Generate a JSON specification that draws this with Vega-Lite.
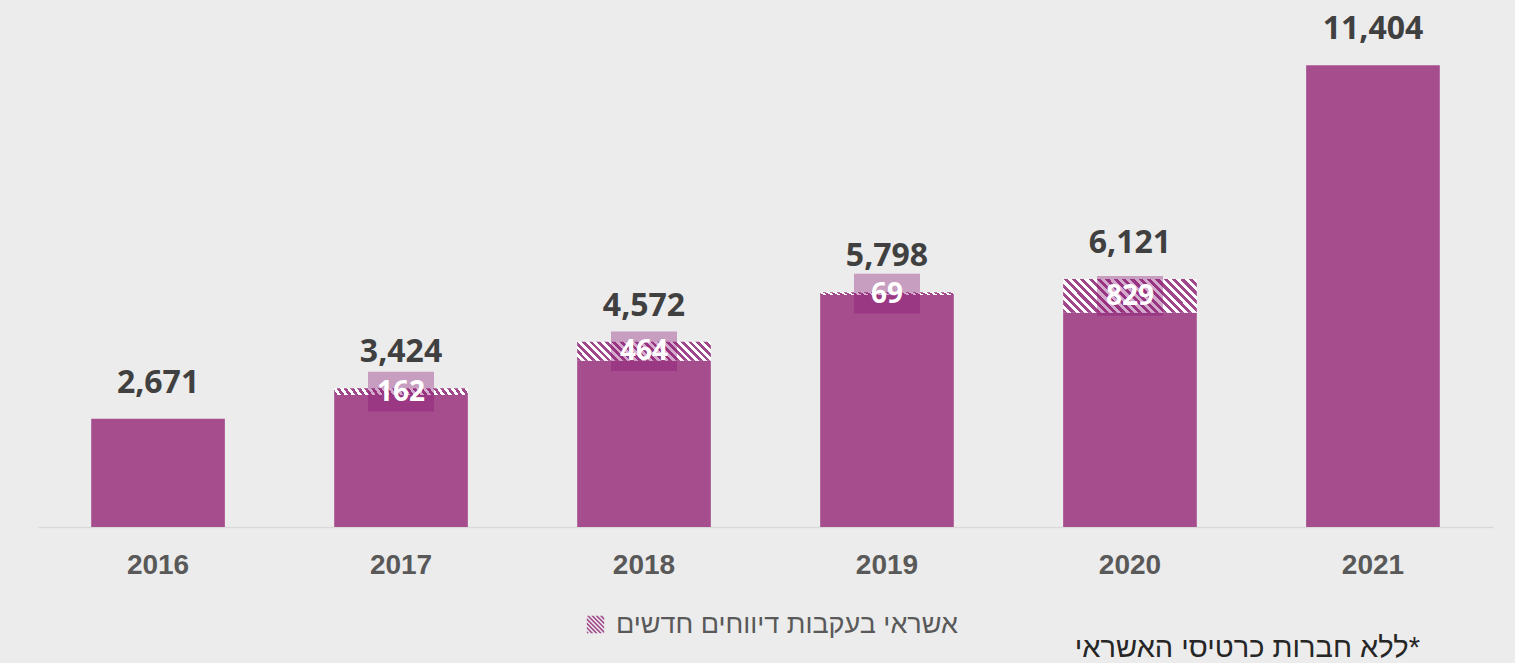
{
  "$schema": "https://vega.github.io/schema/vega-lite/v6.json",
  "width": 1455,
  "height": 486,
  "autosize": {"type": "none"},
  "padding": {"left": 38, "top": 41, "right": 22, "bottom": 136},
  "background": "#ececec",
  "config": {
    "view": {"stroke": null},
    "axis": {"grid": false}
  },
  "title": {
    "text": "ללא חברות כרטיסי האשראי*",
    "orient": "bottom",
    "anchor": "end",
    "font": "Liberation Sans",
    "fontSize": 29,
    "fontWeight": "normal",
    "color": "#262626",
    "dx": -73,
    "offset": -4,
    "baseline": "top"
  },
  "data": {
    "values": [
      {"year": "2016", "base": 2671, "hatch": 0, "total": 2671},
      {"year": "2017", "base": 3262, "hatch": 162, "total": 3424},
      {"year": "2018", "base": 4108, "hatch": 464, "total": 4572},
      {"year": "2019", "base": 5729, "hatch": 69, "total": 5798},
      {"year": "2020", "base": 5292, "hatch": 829, "total": 6121},
      {"year": "2021", "base": 11404, "hatch": 0, "total": 11404}
    ]
  },
  "encoding": {
    "x": {
      "field": "year",
      "type": "ordinal",
      "scale": {"paddingInner": 0.45, "paddingOuter": 0.219},
      "axis": {
        "title": null,
        "labelAngle": 0,
        "ticks": false,
        "domainColor": "#d9d9d9",
        "domainWidth": 1.5,
        "labelFont": "Liberation Sans",
        "labelFontWeight": "bold",
        "labelFontSize": 28,
        "labelColor": "#595959",
        "labelPadding": 24
      }
    }
  },
  "layer": [
    {
      "mark": {"type": "bar", "color": "#a64d8e"},
      "encoding": {
        "y": {"field": "base", "type": "quantitative", "scale": {"domain": [0, 12000]}, "axis": null}
      }
    },
    {
      "transform": [{"filter": "datum.year == '2020'"}],
      "mark": {
        "type": "bar",
        "fill": {
          "gradient": "linear", "x1": 0, "y1": 1, "x2": 1.1765, "y2": 0.706,
          "stops": [
            {"offset": 0, "color": "#a0468a"}, {"offset": 0.025, "color": "#a0468a"}, {"offset": 0.025, "color": "#ffffff"}, {"offset": 0.05, "color": "#ffffff"},
            {"offset": 0.05, "color": "#a0468a"}, {"offset": 0.075, "color": "#a0468a"}, {"offset": 0.075, "color": "#ffffff"}, {"offset": 0.1, "color": "#ffffff"},
            {"offset": 0.1, "color": "#a0468a"}, {"offset": 0.125, "color": "#a0468a"}, {"offset": 0.125, "color": "#ffffff"}, {"offset": 0.15, "color": "#ffffff"},
            {"offset": 0.15, "color": "#a0468a"}, {"offset": 0.175, "color": "#a0468a"}, {"offset": 0.175, "color": "#ffffff"}, {"offset": 0.2, "color": "#ffffff"},
            {"offset": 0.2, "color": "#a0468a"}, {"offset": 0.225, "color": "#a0468a"}, {"offset": 0.225, "color": "#ffffff"}, {"offset": 0.25, "color": "#ffffff"},
            {"offset": 0.25, "color": "#a0468a"}, {"offset": 0.275, "color": "#a0468a"}, {"offset": 0.275, "color": "#ffffff"}, {"offset": 0.3, "color": "#ffffff"},
            {"offset": 0.3, "color": "#a0468a"}, {"offset": 0.325, "color": "#a0468a"}, {"offset": 0.325, "color": "#ffffff"}, {"offset": 0.35, "color": "#ffffff"},
            {"offset": 0.35, "color": "#a0468a"}, {"offset": 0.375, "color": "#a0468a"}, {"offset": 0.375, "color": "#ffffff"}, {"offset": 0.4, "color": "#ffffff"},
            {"offset": 0.4, "color": "#a0468a"}, {"offset": 0.425, "color": "#a0468a"}, {"offset": 0.425, "color": "#ffffff"}, {"offset": 0.45, "color": "#ffffff"},
            {"offset": 0.45, "color": "#a0468a"}, {"offset": 0.475, "color": "#a0468a"}, {"offset": 0.475, "color": "#ffffff"}, {"offset": 0.5, "color": "#ffffff"},
            {"offset": 0.5, "color": "#a0468a"}, {"offset": 0.525, "color": "#a0468a"}, {"offset": 0.525, "color": "#ffffff"}, {"offset": 0.55, "color": "#ffffff"},
            {"offset": 0.55, "color": "#a0468a"}, {"offset": 0.575, "color": "#a0468a"}, {"offset": 0.575, "color": "#ffffff"}, {"offset": 0.6, "color": "#ffffff"},
            {"offset": 0.6, "color": "#a0468a"}, {"offset": 0.625, "color": "#a0468a"}, {"offset": 0.625, "color": "#ffffff"}, {"offset": 0.65, "color": "#ffffff"},
            {"offset": 0.65, "color": "#a0468a"}, {"offset": 0.675, "color": "#a0468a"}, {"offset": 0.675, "color": "#ffffff"}, {"offset": 0.7, "color": "#ffffff"},
            {"offset": 0.7, "color": "#a0468a"}, {"offset": 0.725, "color": "#a0468a"}, {"offset": 0.725, "color": "#ffffff"}, {"offset": 0.75, "color": "#ffffff"},
            {"offset": 0.75, "color": "#a0468a"}, {"offset": 0.775, "color": "#a0468a"}, {"offset": 0.775, "color": "#ffffff"}, {"offset": 0.8, "color": "#ffffff"},
            {"offset": 0.8, "color": "#a0468a"}, {"offset": 0.825, "color": "#a0468a"}, {"offset": 0.825, "color": "#ffffff"}, {"offset": 0.85, "color": "#ffffff"},
            {"offset": 0.85, "color": "#a0468a"}, {"offset": 0.875, "color": "#a0468a"}, {"offset": 0.875, "color": "#ffffff"}, {"offset": 0.9, "color": "#ffffff"},
            {"offset": 0.9, "color": "#a0468a"}, {"offset": 0.925, "color": "#a0468a"}, {"offset": 0.925, "color": "#ffffff"}, {"offset": 0.95, "color": "#ffffff"},
            {"offset": 0.95, "color": "#a0468a"}, {"offset": 0.975, "color": "#a0468a"}, {"offset": 0.975, "color": "#ffffff"}, {"offset": 1, "color": "#ffffff"}
          ]
        }
      },
      "encoding": {
        "y": {"field": "base", "type": "quantitative"},
        "y2": {"field": "total"}
      }
    },
    {
      "transform": [{"filter": "datum.year == '2018'"}],
      "mark": {
        "type": "bar",
        "fill": {
          "gradient": "linear", "x1": 0, "y1": 1, "x2": 1.1183, "y2": 0.843,
          "stops": [
            {"offset": 0, "color": "#a0468a"}, {"offset": 0.025, "color": "#a0468a"}, {"offset": 0.025, "color": "#ffffff"}, {"offset": 0.05, "color": "#ffffff"},
            {"offset": 0.05, "color": "#a0468a"}, {"offset": 0.075, "color": "#a0468a"}, {"offset": 0.075, "color": "#ffffff"}, {"offset": 0.1, "color": "#ffffff"},
            {"offset": 0.1, "color": "#a0468a"}, {"offset": 0.125, "color": "#a0468a"}, {"offset": 0.125, "color": "#ffffff"}, {"offset": 0.15, "color": "#ffffff"},
            {"offset": 0.15, "color": "#a0468a"}, {"offset": 0.175, "color": "#a0468a"}, {"offset": 0.175, "color": "#ffffff"}, {"offset": 0.2, "color": "#ffffff"},
            {"offset": 0.2, "color": "#a0468a"}, {"offset": 0.225, "color": "#a0468a"}, {"offset": 0.225, "color": "#ffffff"}, {"offset": 0.25, "color": "#ffffff"},
            {"offset": 0.25, "color": "#a0468a"}, {"offset": 0.275, "color": "#a0468a"}, {"offset": 0.275, "color": "#ffffff"}, {"offset": 0.3, "color": "#ffffff"},
            {"offset": 0.3, "color": "#a0468a"}, {"offset": 0.325, "color": "#a0468a"}, {"offset": 0.325, "color": "#ffffff"}, {"offset": 0.35, "color": "#ffffff"},
            {"offset": 0.35, "color": "#a0468a"}, {"offset": 0.375, "color": "#a0468a"}, {"offset": 0.375, "color": "#ffffff"}, {"offset": 0.4, "color": "#ffffff"},
            {"offset": 0.4, "color": "#a0468a"}, {"offset": 0.425, "color": "#a0468a"}, {"offset": 0.425, "color": "#ffffff"}, {"offset": 0.45, "color": "#ffffff"},
            {"offset": 0.45, "color": "#a0468a"}, {"offset": 0.475, "color": "#a0468a"}, {"offset": 0.475, "color": "#ffffff"}, {"offset": 0.5, "color": "#ffffff"},
            {"offset": 0.5, "color": "#a0468a"}, {"offset": 0.525, "color": "#a0468a"}, {"offset": 0.525, "color": "#ffffff"}, {"offset": 0.55, "color": "#ffffff"},
            {"offset": 0.55, "color": "#a0468a"}, {"offset": 0.575, "color": "#a0468a"}, {"offset": 0.575, "color": "#ffffff"}, {"offset": 0.6, "color": "#ffffff"},
            {"offset": 0.6, "color": "#a0468a"}, {"offset": 0.625, "color": "#a0468a"}, {"offset": 0.625, "color": "#ffffff"}, {"offset": 0.65, "color": "#ffffff"},
            {"offset": 0.65, "color": "#a0468a"}, {"offset": 0.675, "color": "#a0468a"}, {"offset": 0.675, "color": "#ffffff"}, {"offset": 0.7, "color": "#ffffff"},
            {"offset": 0.7, "color": "#a0468a"}, {"offset": 0.725, "color": "#a0468a"}, {"offset": 0.725, "color": "#ffffff"}, {"offset": 0.75, "color": "#ffffff"},
            {"offset": 0.75, "color": "#a0468a"}, {"offset": 0.775, "color": "#a0468a"}, {"offset": 0.775, "color": "#ffffff"}, {"offset": 0.8, "color": "#ffffff"},
            {"offset": 0.8, "color": "#a0468a"}, {"offset": 0.825, "color": "#a0468a"}, {"offset": 0.825, "color": "#ffffff"}, {"offset": 0.85, "color": "#ffffff"},
            {"offset": 0.85, "color": "#a0468a"}, {"offset": 0.875, "color": "#a0468a"}, {"offset": 0.875, "color": "#ffffff"}, {"offset": 0.9, "color": "#ffffff"},
            {"offset": 0.9, "color": "#a0468a"}, {"offset": 0.925, "color": "#a0468a"}, {"offset": 0.925, "color": "#ffffff"}, {"offset": 0.95, "color": "#ffffff"},
            {"offset": 0.95, "color": "#a0468a"}, {"offset": 0.975, "color": "#a0468a"}, {"offset": 0.975, "color": "#ffffff"}, {"offset": 1, "color": "#ffffff"}
          ]
        }
      },
      "encoding": {
        "y": {"field": "base", "type": "quantitative"},
        "y2": {"field": "total"}
      }
    },
    {
      "transform": [{"filter": "datum.year == '2017' || datum.year == '2019'"}],
      "mark": {
        "type": "bar",
        "fill": {
          "gradient": "linear", "x1": 0, "y1": 1, "x2": 1.0338, "y2": 0.964,
          "stops": [
            {"offset": 0, "color": "#a0468a"}, {"offset": 0.025, "color": "#a0468a"}, {"offset": 0.025, "color": "#ffffff"}, {"offset": 0.05, "color": "#ffffff"},
            {"offset": 0.05, "color": "#a0468a"}, {"offset": 0.075, "color": "#a0468a"}, {"offset": 0.075, "color": "#ffffff"}, {"offset": 0.1, "color": "#ffffff"},
            {"offset": 0.1, "color": "#a0468a"}, {"offset": 0.125, "color": "#a0468a"}, {"offset": 0.125, "color": "#ffffff"}, {"offset": 0.15, "color": "#ffffff"},
            {"offset": 0.15, "color": "#a0468a"}, {"offset": 0.175, "color": "#a0468a"}, {"offset": 0.175, "color": "#ffffff"}, {"offset": 0.2, "color": "#ffffff"},
            {"offset": 0.2, "color": "#a0468a"}, {"offset": 0.225, "color": "#a0468a"}, {"offset": 0.225, "color": "#ffffff"}, {"offset": 0.25, "color": "#ffffff"},
            {"offset": 0.25, "color": "#a0468a"}, {"offset": 0.275, "color": "#a0468a"}, {"offset": 0.275, "color": "#ffffff"}, {"offset": 0.3, "color": "#ffffff"},
            {"offset": 0.3, "color": "#a0468a"}, {"offset": 0.325, "color": "#a0468a"}, {"offset": 0.325, "color": "#ffffff"}, {"offset": 0.35, "color": "#ffffff"},
            {"offset": 0.35, "color": "#a0468a"}, {"offset": 0.375, "color": "#a0468a"}, {"offset": 0.375, "color": "#ffffff"}, {"offset": 0.4, "color": "#ffffff"},
            {"offset": 0.4, "color": "#a0468a"}, {"offset": 0.425, "color": "#a0468a"}, {"offset": 0.425, "color": "#ffffff"}, {"offset": 0.45, "color": "#ffffff"},
            {"offset": 0.45, "color": "#a0468a"}, {"offset": 0.475, "color": "#a0468a"}, {"offset": 0.475, "color": "#ffffff"}, {"offset": 0.5, "color": "#ffffff"},
            {"offset": 0.5, "color": "#a0468a"}, {"offset": 0.525, "color": "#a0468a"}, {"offset": 0.525, "color": "#ffffff"}, {"offset": 0.55, "color": "#ffffff"},
            {"offset": 0.55, "color": "#a0468a"}, {"offset": 0.575, "color": "#a0468a"}, {"offset": 0.575, "color": "#ffffff"}, {"offset": 0.6, "color": "#ffffff"},
            {"offset": 0.6, "color": "#a0468a"}, {"offset": 0.625, "color": "#a0468a"}, {"offset": 0.625, "color": "#ffffff"}, {"offset": 0.65, "color": "#ffffff"},
            {"offset": 0.65, "color": "#a0468a"}, {"offset": 0.675, "color": "#a0468a"}, {"offset": 0.675, "color": "#ffffff"}, {"offset": 0.7, "color": "#ffffff"},
            {"offset": 0.7, "color": "#a0468a"}, {"offset": 0.725, "color": "#a0468a"}, {"offset": 0.725, "color": "#ffffff"}, {"offset": 0.75, "color": "#ffffff"},
            {"offset": 0.75, "color": "#a0468a"}, {"offset": 0.775, "color": "#a0468a"}, {"offset": 0.775, "color": "#ffffff"}, {"offset": 0.8, "color": "#ffffff"},
            {"offset": 0.8, "color": "#a0468a"}, {"offset": 0.825, "color": "#a0468a"}, {"offset": 0.825, "color": "#ffffff"}, {"offset": 0.85, "color": "#ffffff"},
            {"offset": 0.85, "color": "#a0468a"}, {"offset": 0.875, "color": "#a0468a"}, {"offset": 0.875, "color": "#ffffff"}, {"offset": 0.9, "color": "#ffffff"},
            {"offset": 0.9, "color": "#a0468a"}, {"offset": 0.925, "color": "#a0468a"}, {"offset": 0.925, "color": "#ffffff"}, {"offset": 0.95, "color": "#ffffff"},
            {"offset": 0.95, "color": "#a0468a"}, {"offset": 0.975, "color": "#a0468a"}, {"offset": 0.975, "color": "#ffffff"}, {"offset": 1, "color": "#ffffff"}
          ]
        }
      },
      "encoding": {
        "y": {"field": "base", "type": "quantitative"},
        "y2": {"field": "total"}
      }
    },
    {
      "transform": [{"filter": "false"}],
      "mark": {"type": "bar"},
      "encoding": {
        "y": {"field": "base", "type": "quantitative"},
        "fill": {
          "datum": "אשראי בעקבות דיווחים חדשים",
          "scale": {"range": ["#a0468a"]},
          "legend": {
            "title": null,
            "orient": "none",
            "legendX": 544,
            "legendY": 570,
            "padding": 0,
            "symbolType": "M-1,1L-0.75,1L-1,0.75ZM-1,0.5L-0.5,1L-0.25,1L-1,0.25ZM-1,0L0,1L0.25,1L-1,-0.25ZM-1,-0.5L0.5,1L0.75,1L-1,-0.75ZM-1,-1L1,1L1,0.75L-0.75,-1ZM-0.5,-1L1,0.5L1,0.25L-0.25,-1ZM0,-1L1,0L1,-0.25L0.25,-1ZM0.5,-1L1,-0.5L1,-0.75L0.75,-1Z",
            "symbolSize": 300,
            "symbolStrokeWidth": 0,
            "labelFont": "Liberation Sans",
            "labelFontSize": 27,
            "labelColor": "#595959",
            "labelOffset": 7,
            "labelLimit": 600
          }
        }
      }
    },
    {
      "transform": [
        {"filter": "datum.hatch > 0"},
        {"calculate": "datum.base + datum.hatch / 2", "as": "mid"}
      ],
      "mark": {
        "type": "point",
        "shape": "M-1,-0.6H1V0.6H-1Z",
        "size": 4356,
        "filled": true,
        "color": "#881372",
        "opacity": 0.36,
        "strokeWidth": 0
      },
      "encoding": {
        "y": {"field": "mid", "type": "quantitative"}
      }
    },
    {
      "transform": [
        {"filter": "datum.hatch > 0"},
        {"calculate": "datum.base + datum.hatch / 2", "as": "mid"}
      ],
      "mark": {
        "type": "text",
        "font": "Open Sans",
        "fontWeight": "bold",
        "fontSize": 28,
        "color": "#ffffff",
        "baseline": "middle",
        "dy": 1
      },
      "encoding": {
        "y": {"field": "mid", "type": "quantitative"},
        "text": {"field": "hatch", "type": "quantitative", "format": ","}
      }
    },
    {
      "mark": {
        "type": "text",
        "font": "Open Sans",
        "fontWeight": "bold",
        "fontSize": 32,
        "color": "#404040",
        "baseline": "alphabetic",
        "dy": -26
      },
      "encoding": {
        "y": {"field": "total", "type": "quantitative"},
        "text": {"field": "total", "type": "quantitative", "format": ","}
      }
    }
  ]
}
